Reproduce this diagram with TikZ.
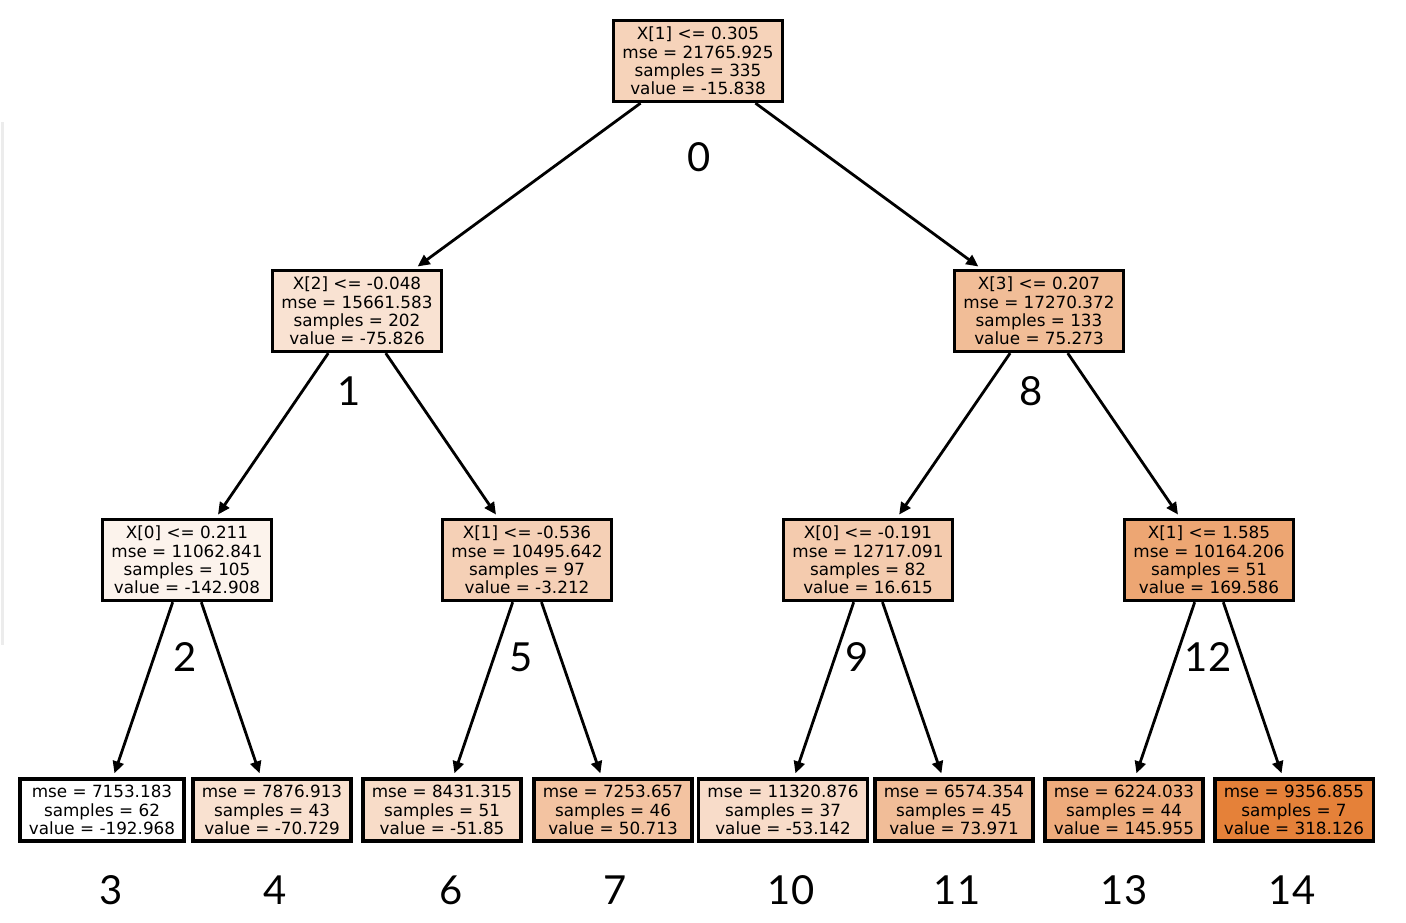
\documentclass[tikz,border=0pt]{standalone}
\usepackage{fontspec}
\setmainfont{DejaVu Sans}
\newfontfamily\labfont{Lato}
\usetikzlibrary{arrows.meta}
\definecolor{treeorange}{RGB}{229,129,57}
\definecolor{faintline}{RGB}{236,236,236}
\tikzset{
  treebox/.style={draw=black, line width=3.4pt, align=center, inner xsep=9pt, inner ysep=6.5pt,
    font=\fontsize{16.8}{18.3}\selectfont, text=black},
  treeedge/.style={line width=2.8pt, -{Triangle[length=12pt,width=11pt]}, shorten >=4pt, shorten <=0pt},
  idlabel/.style={font=\labfont\fontsize{40}{40}\selectfont, inner sep=0pt, text=black}
}
\begin{document}
\begin{tikzpicture}[x=1pt,y=-1pt]
\useasboundingbox (0,0) rectangle (1406,922);
\fill[white] (0,0) rectangle (1406,922);
\draw[faintline, line width=3pt] (2,122) -- (2,645);

% internal nodes
\node[treebox, fill=treeorange!34.7!white] (n0) at (698,61) {X[1] <= 0.305\\mse = 21765.925\\samples = 335\\value = -15.838};
\node[treebox, fill=treeorange!22.9!white] (n1) at (357,311) {X[2] <= -0.048\\mse = 15661.583\\samples = 202\\value = -75.826};
\node[treebox, fill=treeorange!52.5!white] (n8) at (1039,311) {X[3] <= 0.207\\mse = 17270.372\\samples = 133\\value = 75.273};
\node[treebox, fill=treeorange!9.8!white] (n2) at (187,560) {X[0] <= 0.211\\mse = 11062.841\\samples = 105\\value = -142.908};
\node[treebox, fill=treeorange!37.1!white] (n5) at (527,560) {X[1] <= -0.536\\mse = 10495.642\\samples = 97\\value = -3.212};
\node[treebox, fill=treeorange!41!white] (n9) at (868,560) {X[0] <= -0.191\\mse = 12717.091\\samples = 82\\value = 16.615};
\node[treebox, fill=treeorange!70.9!white] (n12) at (1209,560) {X[1] <= 1.585\\mse = 10164.206\\samples = 51\\value = 169.586};

% leaves
\node[treebox, fill=white] (n3) at (102,810) {mse = 7153.183\\samples = 62\\value = -192.968};
\node[treebox, fill=treeorange!23.9!white] (n4) at (272,810) {mse = 7876.913\\samples = 43\\value = -70.729};
\node[treebox, fill=treeorange!27.6!white] (n6) at (442,810) {mse = 8431.315\\samples = 51\\value = -51.85};
\node[treebox, fill=treeorange!47.7!white] (n7) at (613,810) {mse = 7253.657\\samples = 46\\value = 50.713};
\node[treebox, fill=treeorange!27.4!white] (n10) at (783,810) {mse = 11320.876\\samples = 37\\value = -53.142};
\node[treebox, fill=treeorange!52.2!white] (n11) at (954,810) {mse = 6574.354\\samples = 45\\value = 73.971};
\node[treebox, fill=treeorange!66.3!white] (n13) at (1124,810) {mse = 6224.033\\samples = 44\\value = 145.955};
\node[treebox, fill=treeorange] (n14) at (1294,810) {mse = 9356.855\\samples = 7\\value = 318.126};

% edges
\draw[treeedge] (n0) -- (n1);
\draw[treeedge] (n0) -- (n8);
\draw[treeedge] (n1) -- (n2);
\draw[treeedge] (n1) -- (n5);
\draw[treeedge] (n8) -- (n9);
\draw[treeedge] (n8) -- (n12);
\draw[treeedge] (n2) -- (n3);
\draw[treeedge] (n2) -- (n4);
\draw[treeedge] (n5) -- (n6);
\draw[treeedge] (n5) -- (n7);
\draw[treeedge] (n9) -- (n10);
\draw[treeedge] (n9) -- (n11);
\draw[treeedge] (n12) -- (n13);
\draw[treeedge] (n12) -- (n14);

% id labels
\node[idlabel] (l0) at (699,157) {0};
\node[idlabel] (l1) at (349,391) {1};
\node[idlabel] (l8) at (1031,391) {8};
\node[idlabel] (l2) at (185,657) {2};
\node[idlabel] (l5) at (521,657) {5};
\node[idlabel] (l9) at (857,657) {9};
\node[idlabel] (l12) at (1208,657) {12};
\node[idlabel] (l3) at (111,890) {3};
\node[idlabel] (l4) at (275,890) {4};
\node[idlabel] (l6) at (451,890) {6};
\node[idlabel] (l7) at (615,890) {7};
\node[idlabel] (l10) at (791,890) {10};
\node[idlabel] (l11) at (957,890) {11};
\node[idlabel] (l13) at (1124,890) {13};
\node[idlabel] (l14) at (1292,890) {14};
\end{tikzpicture}
\end{document}
